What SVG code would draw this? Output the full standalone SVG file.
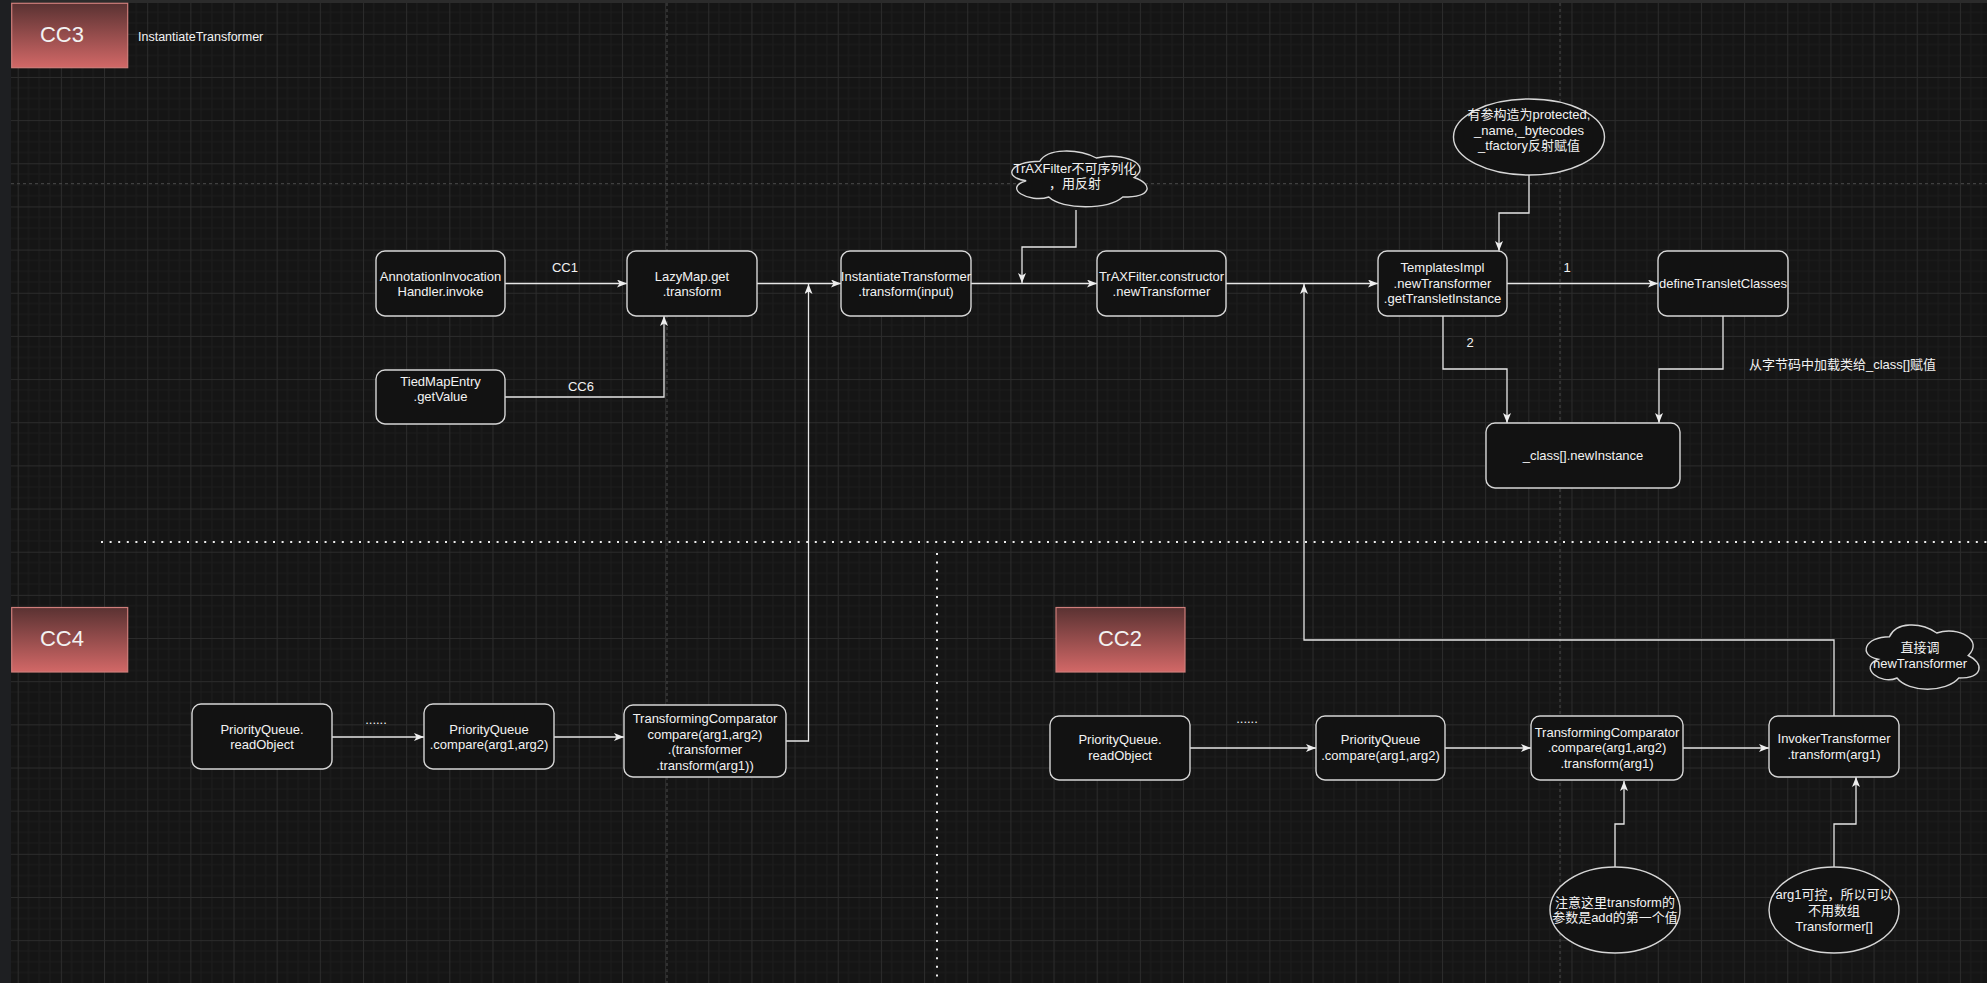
<svg xmlns="http://www.w3.org/2000/svg" width="1987" height="983" viewBox="0 0 1987 983">
<style>
text{font-family:"Liberation Sans","Noto Sans CJK SC",sans-serif;fill:#f2f2f2;font-size:13px}
.t{text-anchor:middle}
.big{font-size:22px;text-anchor:middle}
.box{fill:#121212;stroke:#d6d6d6;stroke-width:1.4}
.hdr{fill:url(#hg);stroke:#cf7e7b;stroke-width:1.2}
.e{fill:none;stroke:#e6e6e6;stroke-width:1.3}
.ea{fill:none;stroke:#e6e6e6;stroke-width:1.3;marker-end:url(#arr)}
.pg{fill:none;stroke:#4a4a4a;stroke-width:1;stroke-dasharray:3 3}
.dot{fill:none;stroke:#eeeeee;stroke-width:2;stroke-dasharray:2 6.6}
</style>
<defs>
<linearGradient id="hg" x1="0" y1="0" x2="0" y2="1">
<stop offset="0" stop-color="#5a3232"/>
<stop offset="1" stop-color="#d26867"/>
</linearGradient>
<pattern id="grid" patternUnits="userSpaceOnUse" x="17.7" y="33.8" width="43.16" height="43.16">
<rect width="43.16" height="43.16" fill="#151515"/>
<path d="M10.79 0V43.16M21.58 0V43.16M32.37 0V43.16M0 10.79H43.16M0 21.58H43.16M0 32.37H43.16" stroke="#1d1d1d" stroke-width="1"/>
<path d="M0.5 0V43.16M0 0.5H43.16" stroke="#2c2c2c" stroke-width="1"/>
</pattern>
<marker id="arr" markerUnits="userSpaceOnUse" markerWidth="12" markerHeight="10" refX="10" refY="4" orient="auto">
<path d="M0,0 L10,4 L0,8 L2.5,4 Z" fill="#eeeeee"/>
</marker>
</defs>

<rect width="1987" height="983" fill="#1e1f22"/>
<rect x="11" y="3" width="1976" height="980" fill="url(#grid)"/>
<rect x="11" y="0" width="1976" height="3" fill="#2b2b2b"/>

<g id="page-breaks">
<path class="pg" d="M11 183.7H1987"/>
<path class="pg" d="M667 3V983"/>
<path class="pg" d="M1560 3V983"/>
</g>
<g id="separators">
<path class="dot" d="M101 542H1987"/>
<path class="dot" d="M937 553V983"/>
</g>

<g id="connectors">
<path class="ea" d="M505 283.5H627"/>
<text class="t" x="565" y="271.5">CC1</text>
<path class="ea" d="M505 397H664V316"/>
<text class="t" x="581" y="390.5">CC6</text>
<path class="ea" d="M757 283.5H841"/>
<path class="ea" d="M786 741H808.5V284"/>
<path class="ea" d="M1076 210V247H1022V283"/>
<path class="ea" d="M971 283.5H1097"/>
<path class="ea" d="M1226 283.5H1378"/>
<path class="ea" d="M1834 716V640H1304V284"/>
<path class="ea" d="M1529 175V213H1499V251"/>
<path class="ea" d="M1507 283.5H1658"/>
<text class="t" x="1567" y="271.5">1</text>
<path class="ea" d="M1443 316V369H1507V423"/>
<text class="t" x="1470" y="346.5">2</text>
<path class="ea" d="M1723 316V369H1659V423"/>
<path class="ea" d="M332 737H424"/>
<text class="t" x="376" y="724">......</text>
<path class="ea" d="M554 737H624"/>
<path class="ea" d="M1190 748H1316"/>
<text class="t" x="1247" y="723">......</text>
<path class="ea" d="M1445 748H1531"/>
<path class="ea" d="M1683 748H1769"/>
<path class="ea" d="M1615 867V824H1624V781"/>
<path class="ea" d="M1834 867V824H1856V777"/>
</g>

<g id="cc3-header">
<rect class="hdr" x="11.7" y="3.3" width="116" height="64.4"/>
<text class="big" x="62" y="42">CC3</text>
<text x="138" y="40.5" style="font-size:12.5px">InstantiateTransformer</text>
</g>
<g id="cc4-header">
<rect class="hdr" x="11.7" y="607.5" width="116" height="64.5"/>
<text class="big" x="62" y="646">CC4</text>
</g>
<g id="cc2-header">
<rect class="hdr" x="1056" y="607.5" width="129" height="64.5"/>
<text class="big" x="1120" y="646">CC2</text>
</g>

<g id="n-aih">
<rect class="box" x="376" y="251" width="129" height="65" rx="9"/>
<text class="t" x="440.5" y="280.5">AnnotationInvocation</text>
<text class="t" x="440.5" y="295.5">Handler.invoke</text>
</g>
<g id="n-lazymap">
<rect class="box" x="627" y="251" width="130" height="65" rx="9"/>
<text class="t" x="692" y="280.5">LazyMap.get</text>
<text class="t" x="692" y="295.5">.transform</text>
</g>
<g id="n-tiedmap">
<rect class="box" x="376" y="370" width="129" height="54" rx="9"/>
<text class="t" x="440.5" y="385.5">TiedMapEntry</text>
<text class="t" x="440.5" y="400.5">.getValue</text>
</g>
<g id="n-instantiate">
<rect class="box" x="841" y="251" width="130" height="65" rx="9"/>
<text class="t" x="906" y="280.5">InstantiateTransformer</text>
<text class="t" x="906" y="295.5">.transform(input)</text>
</g>
<g id="n-cloud-trax">
<path class="box" d="M1039.75 161.25C1009.55 161.25 1002 177.5 1026.16 180.75C1002 187.9 1029.18 203.5 1048.81 197C1062.4 210 1107.7 210 1122.8 197C1153 197 1153 184 1134.125 177.5C1153 164.5 1122.8 151.5 1096.375 158C1077.5 148.25 1047.3 148.25 1039.75 161.25Z"/>
<text class="t" x="1075" y="172.5">TrAXFilter不可序列化</text>
<text class="t" x="1075" y="187.5">，用反射</text>
</g>
<g id="n-trax">
<rect class="box" x="1097" y="251" width="129" height="65" rx="9"/>
<text class="t" x="1161.5" y="280.5">TrAXFilter.constructor</text>
<text class="t" x="1161.5" y="295.5">.newTransformer</text>
</g>
<g id="n-ellipse-protected">
<ellipse class="box" cx="1529" cy="137" rx="75.5" ry="38"/>
<text class="t" x="1529" y="119">有参构造为protected,</text>
<text class="t" x="1529" y="134.5">_name,_bytecodes</text>
<text class="t" x="1529" y="150">_tfactory反射赋值</text>
</g>
<g id="n-templates">
<rect class="box" x="1378" y="251" width="129" height="65" rx="9"/>
<text class="t" x="1442.5" y="271.5">TemplatesImpl</text>
<text class="t" x="1442.5" y="287.5">.newTransformer</text>
<text class="t" x="1442.5" y="302.5">.getTransletInstance</text>
</g>
<g id="n-define">
<rect class="box" x="1658" y="251" width="130" height="65" rx="9"/>
<text class="t" x="1723" y="288">defineTransletClasses</text>
</g>
<g id="n-newinstance">
<rect class="box" x="1486" y="423" width="194" height="65" rx="9"/>
<text class="t" x="1583" y="460">_class[].newInstance</text>
</g>
<g id="n-note-bytes">
<text x="1749" y="368.5">从字节码中加载类给_class[]赋值</text>
</g>

<g id="n-cc4-pq-read">
<rect class="box" x="192" y="704" width="140" height="65" rx="9"/>
<text class="t" x="262" y="733.5">PriorityQueue.</text>
<text class="t" x="262" y="748.5">readObject</text>
</g>
<g id="n-cc4-pq-compare">
<rect class="box" x="424" y="704" width="130" height="65" rx="9"/>
<text class="t" x="489" y="733.5">PriorityQueue</text>
<text class="t" x="489" y="748.5">.compare(arg1,arg2)</text>
</g>
<g id="n-cc4-tc">
<rect class="box" x="624" y="705" width="162" height="72" rx="9"/>
<text class="t" x="705" y="722.5">TransformingComparator</text>
<text class="t" x="705" y="738.5">compare(arg1,arg2)</text>
<text class="t" x="705" y="753.5">.(transformer</text>
<text class="t" x="705" y="769.5">.transform(arg1))</text>
</g>

<g id="n-cc2-pq-read">
<rect class="box" x="1050" y="716" width="140" height="64" rx="9"/>
<text class="t" x="1120" y="743.5">PriorityQueue.</text>
<text class="t" x="1120" y="759.5">readObject</text>
</g>
<g id="n-cc2-pq-compare">
<rect class="box" x="1316" y="716" width="129" height="64" rx="9"/>
<text class="t" x="1380.5" y="743.5">PriorityQueue</text>
<text class="t" x="1380.5" y="759.5">.compare(arg1,arg2)</text>
</g>
<g id="n-cc2-tc">
<rect class="box" x="1531" y="716" width="152" height="64" rx="9"/>
<text class="t" x="1607" y="736.5">TransformingComparator</text>
<text class="t" x="1607" y="751.5">.compare(arg1,arg2)</text>
<text class="t" x="1607" y="767.5">.transform(arg1)</text>
</g>
<g id="n-cc2-invoker">
<rect class="box" x="1769" y="716" width="130" height="61" rx="9"/>
<text class="t" x="1834" y="742.5">InvokerTransformer</text>
<text class="t" x="1834" y="758.5">.transform(arg1)</text>
</g>
<g id="n-cloud-direct">
<path class="box" d="M1889.5 636.75C1864.3 636.75 1858 655.5 1878.16 659.25C1858 667.5 1880.68 685.5 1897.06 678C1908.4 693 1946.2 693 1958.8 678C1984 678 1984 663 1968.25 655.5C1984 640.5 1958.8 625.5 1936.75 633C1921 621.75 1895.8 621.75 1889.5 636.75Z"/>
<text class="t" x="1920" y="651.5">直接调</text>
<text class="t" x="1920" y="667.5">newTransformer</text>
</g>
<g id="n-ellipse-add">
<ellipse class="box" cx="1615" cy="910" rx="65" ry="43"/>
<text class="t" x="1615" y="906.5">注意这里transform的</text>
<text class="t" x="1615" y="921.5">参数是add的第一个值</text>
</g>
<g id="n-ellipse-arg1">
<ellipse class="box" cx="1834" cy="910" rx="65" ry="43"/>
<text class="t" x="1834" y="898.5">arg1可控，所以可以</text>
<text class="t" x="1834" y="914.5">不用数组</text>
<text class="t" x="1834" y="930.5">Transformer[]</text>
</g>
</svg>
